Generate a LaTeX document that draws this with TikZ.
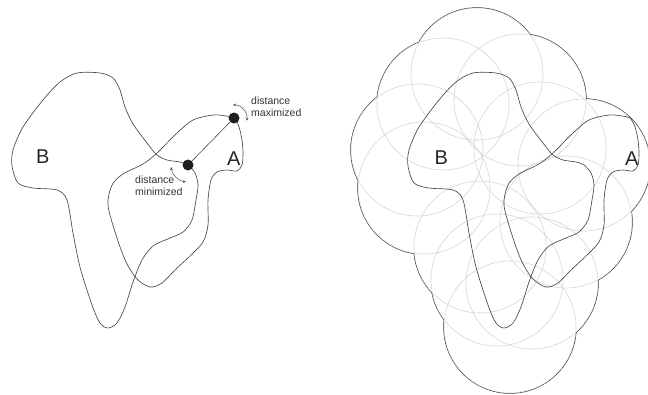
\documentclass[tikz,border=0pt]{standalone}
\usepackage{fontspec}
\setmainfont{Liberation Sans}
\usetikzlibrary{arrows.meta}

% outlines of the two regions, in pixels of the left half
\newcommand\outlineB{plot[smooth cycle] coordinates {
  (77,73) (100,73) (113,78) (120,90) (125,107) (133,124) (147,143)
  (157,155) (167,160) (180,162) (188,165) (195,173) (198,185) (196,200)
  (192,220) (183,232) (170,238) (153,246) (142,260) (133,282) (125,307)
  (117,323) (108,328) (100,323) (92,305) (80,267) (73,233) (67,200)
  (57,190) (33,188) (18,183) (12,166) (13,150) (23,127) (43,100) (60,82)}}
\newcommand\outlineA{plot[smooth cycle] coordinates {
  (234,118) (239,127) (242,140) (243,153) (242,165) (237,171) (227,170)
  (217,172) (211,180) (208,200) (208,225) (203,242) (190,256) (175,270)
  (162,283) (150,287) (137,279) (126,262) (116,235) (108,205) (112,185)
  (123,174) (143,164) (157,153) (177,133) (193,120) (213,115) (226,116)}}
% centres of the covering circles, on the outline of B
\newcommand\hullcenters{81/74,124/100,47/104,21/150,28/188,144/148,188/165,
  170/222,84/247,101/280,136/283,114/327}

\tikzset{
  blob/.style={draw=black!72,line width=0.65pt},
  ring/.style={draw=black!16,line width=0.6pt},
  rim/.style={draw=black!78,line width=1.4pt},
  dot/.style={circle,fill=black!88,inner sep=0pt,minimum size=11pt},
  swing/.style={{Stealth[length=3pt,width=2.6pt]}-{Stealth[length=3pt,width=2.6pt]},
    draw=black!70,line width=0.5pt},
  note/.style={font=\fontsize{10.5}{12.5}\selectfont,text=black!80,align=left,inner sep=0pt},
  tag/.style={font=\fontsize{20}{24}\selectfont,text=black!85,inner sep=0pt}
}

\begin{document}
\begin{tikzpicture}[x=1pt,y=-1pt]
  \useasboundingbox (0,0) rectangle (648,394);

  % left half
  \draw[blob] \outlineB;
  \draw[blob] \outlineA;
  \node[tag,anchor=base west] (tagB) at (36,163.5) {B};
  \node[tag,anchor=base west] (tagA) at (227,165) {A};

  \node[dot] (near) at (188,165) {};
  \node[dot] (far) at (234,118) {};
  \draw[line width=0.6pt,black!70] (near) -- (far);
  \draw[swing] ([shift={(94:13pt)}]far.center) arc (94:-12:13pt);
  \draw[swing] ([shift={(187:17pt)}]near.center) arc (187:263:17pt);

  \node[note,anchor=north west] (maxnote) at (251,96.5) {distance\\maximized};
  \node[note,anchor=north west] (minnote) at (135,175.5) {distance\\minimized};

  % right half
  \begin{scope}[xshift=396pt]
    \foreach \cx/\cy in \hullcenters \draw[rim] (\cx,\cy) circle (66pt);
    \foreach \cx/\cy in \hullcenters \fill[white] (\cx,\cy) circle (66pt);
    \begin{scope}
      \clip \foreach \cx/\cy in \hullcenters {(\cx,\cy) circle (66pt)};
      \foreach \cx/\cy in \hullcenters \draw[ring] (\cx,\cy) circle (66pt);
    \end{scope}
    \draw[blob] \outlineB;
    \draw[blob] \outlineA;
    \node[tag,anchor=base west] (tagB2) at (38.5,164) {B};
    \node[tag,anchor=base west] (tagA2) at (229,165) {A};
  \end{scope}
\end{tikzpicture}
\end{document}
